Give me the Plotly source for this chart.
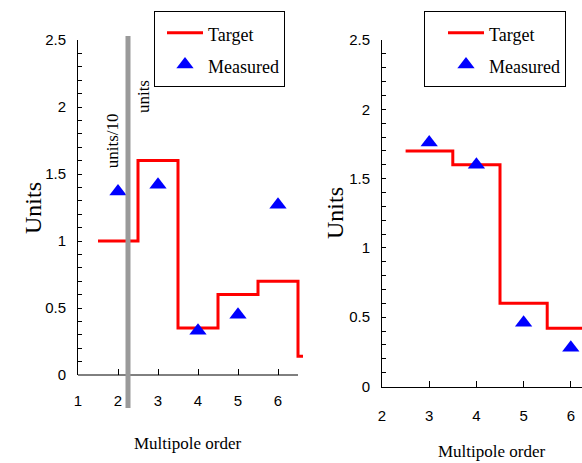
import plotly.graph_objects as go

# ---------------- data ----------------
# Left panel
left_orders = [2, 3, 4, 5, 6, 7]
left_target = [1.0, 1.6, 0.35, 0.6, 0.7, 0.14]
left_meas_orders = [2, 3, 4, 5, 6]
left_measured = [1.37, 1.42, 0.33, 0.45, 1.27]

# Right panel
right_orders = [3, 4, 5, 6]
right_target = [1.7, 1.6, 0.6, 0.42]
right_meas_orders = [3, 4, 5, 6]
right_measured = [1.76, 1.60, 0.46, 0.28]

left_xticks = [1, 2, 3, 4, 5, 6]
right_xticks = [2, 3, 4, 5, 6]

divider_order = 2.25  # grey divider between units/10 and units regions

# ---------------- helpers ----------------
def step_xy(orders, vals):
    xs = [o - 0.5 for o in orders] + [orders[-1] + 0.5]
    ys = list(vals) + [vals[-1]]
    return xs, ys

W, H = 582, 463
RED = "#ff0000"
BLUE = "#0000ff"
SERIF = "Liberation Serif"
SANS = "Liberation Sans"

fig = go.Figure()

lx, ly = step_xy(left_orders, left_target)
rx, ry = step_xy(right_orders, right_target)

def nm(s):
    return '<span style="font-size:18px">%s</span>' % s

fig.add_trace(go.Scatter(x=lx, y=ly, mode="lines", line=dict(color=RED, width=3, shape="hv"),
                         name=nm("Target"), xaxis="x", yaxis="y", legend="legend"))
fig.add_trace(go.Scatter(x=left_meas_orders, y=left_measured, mode="markers",
                         marker=dict(symbol="triangle-up", size=15, color=BLUE),
                         name=nm("Measured"), xaxis="x", yaxis="y", legend="legend"))
fig.add_trace(go.Scatter(x=rx, y=ry, mode="lines", line=dict(color=RED, width=3, shape="hv"),
                         name=nm("Target"), xaxis="x2", yaxis="y2", legend="legend2"))
fig.add_trace(go.Scatter(x=right_meas_orders, y=right_measured, mode="markers",
                         marker=dict(symbol="triangle-up", size=15, color=BLUE),
                         name=nm("Measured"), xaxis="x2", yaxis="y2", legend="legend2"))

tickfont = dict(family=SANS, size=15, color="black")

def xax(domain, rng, ticks, anchor, showline):
    return dict(domain=domain, range=rng, anchor=anchor, tickvals=ticks,
                ticks="inside", ticklen=6, tickcolor="black", tickwidth=1,
                showline=showline, linecolor="black", linewidth=1,
                showgrid=False, zeroline=False, tickfont=tickfont,
                ticklabelstandoff=15, automargin=False, fixedrange=True)

def yax(domain, anchor):
    return dict(domain=domain, range=[0, 2.5], anchor=anchor,
                tickmode="linear", tick0=0, dtick=0.5,
                ticks="inside", ticklen=4, tickcolor="black", tickwidth=1,
                minor=dict(tickmode="linear", tick0=0, dtick=0.1, ticks="inside",
                           ticklen=4, tickcolor="black", tickwidth=1, showgrid=False),
                showline=True, linecolor="black", linewidth=1,
                showgrid=False, zeroline=False, tickfont=tickfont,
                ticklabelstandoff=8, automargin=False, fixedrange=True)

left_ydom = [(H - 375) / H, (H - 40) / H]
right_ydom = [(H - 386.5) / H, (H - 40) / H]

legend_common = dict(xanchor="left", yanchor="top", bordercolor="black", borderwidth=1,
                     bgcolor="white", font=dict(family=SERIF, size=22, color="black"),
                     tracegroupgap=0, itemwidth=36)

fig.update_layout(
    width=W, height=H, margin=dict(l=0, r=0, t=0, b=0, autoexpand=False),
    paper_bgcolor="white", plot_bgcolor="white",
    xaxis=xax([78 / W, 303 / W], [1, 6.625], left_xticks, "y", False),
    yaxis=yax(left_ydom, "x"),
    xaxis2=xax([382 / W, 1.0], [2, 6.237], right_xticks, "y2", True),
    yaxis2=yax(right_ydom, "x2"),
    legend=dict(x=154 / W, y=(H - 11) / H, indentation=7, **legend_common),
    legend2=dict(x=424 / W, y=(H - 11) / H, indentation=18, **legend_common),
    showlegend=True,
)

# left x axis line (ends at last step edge)
fig.add_shape(type="line", xref="x", yref="paper", x0=left_xticks[0], x1=6.5,
              y0=left_ydom[0], y1=left_ydom[0], line=dict(color="black", width=1))
# grey divider
fig.add_shape(type="line", xref="x", yref="paper", x0=divider_order, x1=divider_order,
              y0=(H - 408) / H, y1=(H - 36) / H, line=dict(color="#9a9a9a", width=5), layer="above")

ann_font = dict(family=SERIF, size=17, color="black")
fig.add_annotation(x=1.87, y=1.75, xref="x", yref="y", text="units/10", textangle=-90,
                   showarrow=False, font=ann_font, xanchor="center", yanchor="middle")
fig.add_annotation(x=2.62, y=2.08, xref="x", yref="y", text="units", textangle=-90,
                   showarrow=False, font=ann_font, xanchor="center", yanchor="middle")

title_font_y = dict(family=SERIF, size=24, color="black")
title_font_x = dict(family=SERIF, size=17, color="black")
def title_ann(x, y, text, font, angle=0):
    fig.add_annotation(x=x / W, y=(H - y) / H, xref="paper", yref="paper", text=text,
                       textangle=angle, showarrow=False, font=font,
                       xanchor="center", yanchor="middle")

title_ann(33, 208, "Units", title_font_y, -90)
title_ann(335, 213, "Units", title_font_y, -90)
title_ann(188, 443, "Multipole order", title_font_x)
title_ann(491.5, 451.5, "Multipole order", title_font_x)

fig.write_html("out.html")
